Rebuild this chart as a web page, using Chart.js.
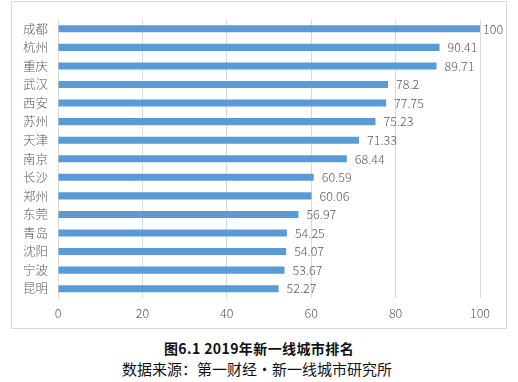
<!DOCTYPE html>
<html>
<head>
<meta charset="utf-8">
<script src="https://cdn.jsdelivr.net/npm/chart.js@4"></script>
<style>
  html, body { margin: 0; padding: 0; background: #fff; width: 518px; height: 382px; overflow: hidden; }
  #box { position: absolute; left: 11px; top: 1px; width: 494px; height: 326px; border: 1px solid #d9d9d9; background: #fff; }
  #box canvas { display: block; }
  .cap1 { position: absolute; left: 0; width: 518px; top: 338px; text-align: center; font-family: "Noto Sans CJK SC"; font-weight: bold; font-size: 14px; color: #111; line-height: 20px; letter-spacing: 0.4px; }
  .cap2 { position: absolute; left: 0; width: 514px; top: 359px; text-align: center; font-family: "Noto Sans CJK SC"; font-size: 15px; color: #111; line-height: 20px; }
</style>
</head>
<body>
<div id="box"><canvas id="c" width="494" height="326"></canvas></div>
<div class="cap1">图6.1 2019年新一线城市排名</div>
<div class="cap2">数据来源：第一财经·新一线城市研究所</div>
<script>
const cities = ["成都","杭州","重庆","武汉","西安","苏州","天津","南京","长沙","郑州","东莞","青岛","沈阳","宁波","昆明"];
const scores = [100, 90.41, 89.71, 78.2, 77.75, 75.23, 71.33, 68.44, 60.59, 60.06, 56.97, 54.25, 54.07, 53.67, 52.27];
const xTicks = [0, 20, 40, 60, 80, 100];

const valueLabels = {
  id: 'valueLabels',
  afterDatasetsDraw(chart) {
    const ctx = chart.ctx;
    const meta = chart.getDatasetMeta(0);
    ctx.save();
    ctx.font = '300 12.5px "Noto Sans CJK SC"';
    ctx.fillStyle = '#595959';
    ctx.textBaseline = 'middle';
    ctx.textAlign = 'left';
    meta.data.forEach((bar, i) => {
      const x = Math.min(bar.x + 8, chart.chartArea.right + 3);
      ctx.fillText(String(scores[i]), x, bar.y);
    });
    ctx.restore();
  }
};

new Chart(document.getElementById('c'), {
  type: 'bar',
  data: {
    labels: cities,
    datasets: [{
      data: scores,
      backgroundColor: '#5b9bd5',
      borderWidth: 0,
      barPercentage: 0.38,
      categoryPercentage: 1
    }]
  },
  options: {
    indexAxis: 'y',
    responsive: false,
    animation: false,
    devicePixelRatio: 1,
    layout: { padding: { left: 10, right: 26, top: 15, bottom: 0 } },
    plugins: { legend: { display: false }, tooltip: { enabled: false } },
    scales: {
      x: {
        min: 0, max: 100,
        afterFit(s) { s.height = 30; },
        afterBuildTicks(s) { s.ticks = xTicks.map(v => ({ value: v })); },
        grid: { color: '#d9d9d9', drawTicks: false, lineWidth: 1 },
        border: { display: false },
        ticks: { color: '#595959', font: { family: 'Noto Sans CJK SC', size: 12.5, weight: 300 }, padding: 8 }
      },
      y: {
        afterFit(s) { s.width = 36; },
        grid: { display: false, drawTicks: false },
        border: { display: true, color: '#d9d9d9' },
        ticks: { color: '#595959', font: { family: 'Noto Sans CJK SC', size: 12.5, weight: 300 }, padding: 10 }
      }
    }
  },
  plugins: [valueLabels]
});
</script>
</body>
</html>
